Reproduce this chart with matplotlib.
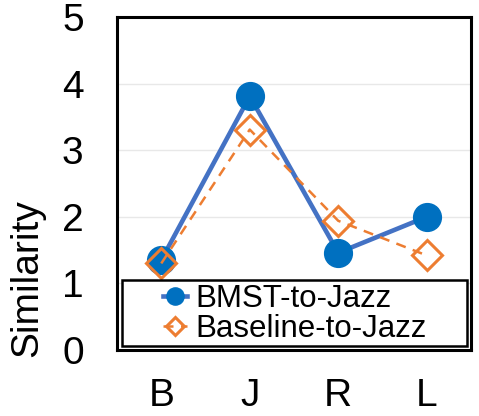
import matplotlib.pyplot as plt
from matplotlib.patches import Rectangle

plt.rcParams['font.family'] = ['Liberation Sans', 'DejaVu Sans']

categories = ['B', 'J', 'R', 'L']
bmst = [1.35, 3.81, 1.46, 2.0]
baseline = [1.3, 3.31, 1.94, 1.42]

fig = plt.figure(figsize=(4.79, 4.16), dpi=100)
ax = fig.add_axes([117 / 479, 1 - 350 / 416, 354 / 479, 333 / 416])

x = range(len(categories))
ax.plot(x, bmst, color='#4472C4', lw=3.3, marker='o', ms=20,
        mfc='#0070C0', mec='#0070C0', label='BMST-to-Jazz', zorder=3)
ax.plot(x, baseline, color='#ED7D31', lw=1.8, ls=(0, (4, 3)), marker='D', ms=15,
        mfc='none', mec='#ED7D31', mew=2.2, label='Baseline-to-Jazz', zorder=4)

ax.set_xlim(-0.5, 3.5)
ax.set_ylim(0, 5)
ax.set_xticks(list(x))
ax.set_xticklabels(categories)
ax.set_yticks([0, 1, 2, 3, 4, 5])
ax.tick_params(axis='both', length=0, labelsize=28)
ax.tick_params(axis='y', pad=24)
ax.tick_params(axis='x', pad=20)
ax.grid(axis='y', color='#E8E8E8', lw=1)
ax.set_axisbelow(True)
for s in ax.spines.values():
    s.set_linewidth(2.2)
    s.set_color('black')

fig.text(27 / 479, 1 - 278 / 416, 'Similarity', rotation=90, ha='center', va='center', fontsize=28)

# legend box
ax.add_patch(Rectangle((0.0141, 0.012), 0.9746, 0.198, transform=ax.transAxes,
                       facecolor='white', edgecolor='black', lw=1.8, zorder=6))
leg = ax.legend(loc='upper left', bbox_to_anchor=(0.131, 0.197), borderaxespad=0,
                fontsize=22.5, labelspacing=0.0, handlelength=0.75, markerscale=0.62,
                handletextpad=0.28, borderpad=0, frameon=False)
leg.set_zorder(7)

fig.savefig('out.png', dpi=100)
